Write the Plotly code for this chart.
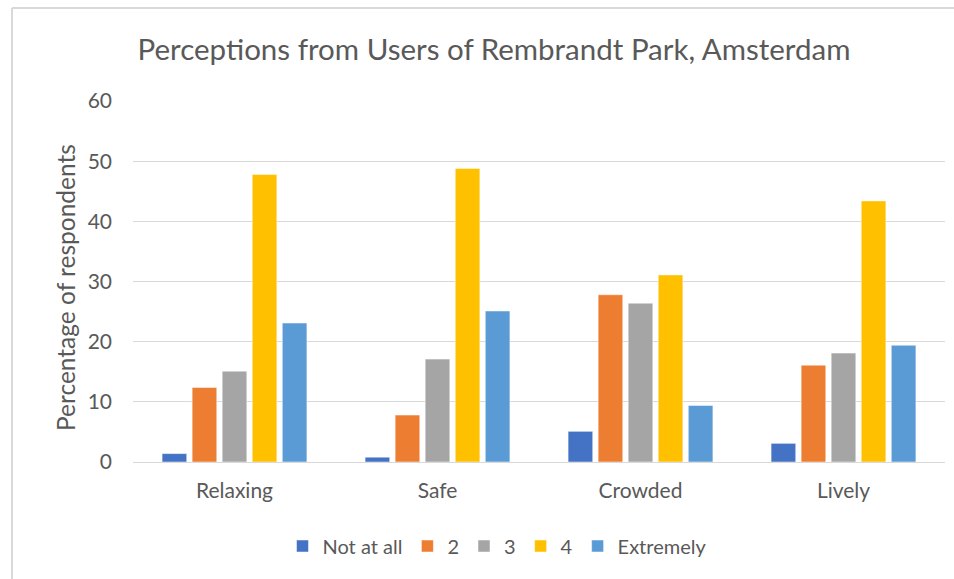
import plotly.graph_objects as go

# Survey responses by perception category (percentage of respondents)
categories = ["Relaxing", "Safe", "Crowded", "Lively"]
series_names = ["Not at all", "2", "3", "4", "Extremely"]
not_at_all = [1.4, 0.8, 5.1, 3.1]
level_2 = [12.4, 7.8, 27.8, 16.1]
level_3 = [15.1, 17.1, 26.4, 18.1]
level_4 = [47.8, 48.8, 31.1, 43.4]
extremely = [23.1, 25.1, 9.4, 19.4]
y_ticks = [0, 10, 20, 30, 40, 50, 60]

series_values = [not_at_all, level_2, level_3, level_4, extremely]
colors = ["#4472C4", "#ED7D31", "#A5A5A5", "#FFC000", "#5B9BD5"]

FONT = "Lato"
TEXT = "#595959"

fig = go.Figure()
for name, vals, col in zip(series_names, series_values, colors):
    fig.add_trace(go.Bar(
        x=categories, y=vals, name=name,
        marker=dict(color=col, line=dict(color="white", width=0.5)),
    ))

W, H = 954, 579
L, R, T, B = 133, 9, 101, 117
pw, ph = W - L - R, H - T - B

fig.update_layout(
    width=W, height=H,
    margin=dict(l=L, r=R, t=T, b=B),
    paper_bgcolor="white", plot_bgcolor="white",
    barmode="group", bargap=0.26, bargroupgap=0.18,
    font=dict(family=FONT, color=TEXT),
    title=dict(
        text="Perceptions from Users of Rembrandt Park, Amsterdam",
        x=494 / W, xanchor="center", xref="container",
        y=1 - 50 / H, yanchor="middle", yref="container",
        font=dict(family=FONT, size=29.5, color=TEXT),
    ),
    showlegend=True,
    legend=dict(
        orientation="h", x=(497 - L) / pw, xanchor="center",
        y=-(546 - (T + ph)) / ph, yanchor="middle",
        font=dict(family=FONT, size=20, color=TEXT),
        itemwidth=30, tracegroupgap=0,
    ),
)

fig.update_yaxes(
    range=[0, 60], tickvals=y_ticks, showgrid=True, gridcolor="#d9d9d9", gridwidth=1,
    zeroline=True, zerolinecolor="#d9d9d9", zerolinewidth=1,
    showline=False, ticks="", ticklabelstandoff=20,
    tickfont=dict(family=FONT, size=21, color=TEXT),
)
fig.update_xaxes(
    showline=False, ticks="", ticklabelstandoff=14,
    tickfont=dict(family=FONT, size=21, color=TEXT),
)

# Vertical axis title
fig.add_annotation(
    text="Percentage of respondents", textangle=-90, showarrow=False,
    xref="paper", yref="paper", x=(65 - L) / pw, y=(T + ph - 288) / ph,
    xanchor="center", yanchor="middle",
    font=dict(family=FONT, size=24.5, color=TEXT),
)

# Outer chart frame (top and left edges)
x_left = (12 - L) / pw
y_top = (T + ph - 8) / ph
fig.add_shape(type="line", xref="paper", yref="paper", x0=x_left, x1=(W - L) / pw,
              y0=y_top, y1=y_top, line=dict(color="#d9d9d9", width=2))
fig.add_shape(type="line", xref="paper", yref="paper", x0=x_left, x1=x_left,
              y0=y_top, y1=-(H - (T + ph)) / ph, line=dict(color="#d9d9d9", width=2))

fig.write_html("out.html")
